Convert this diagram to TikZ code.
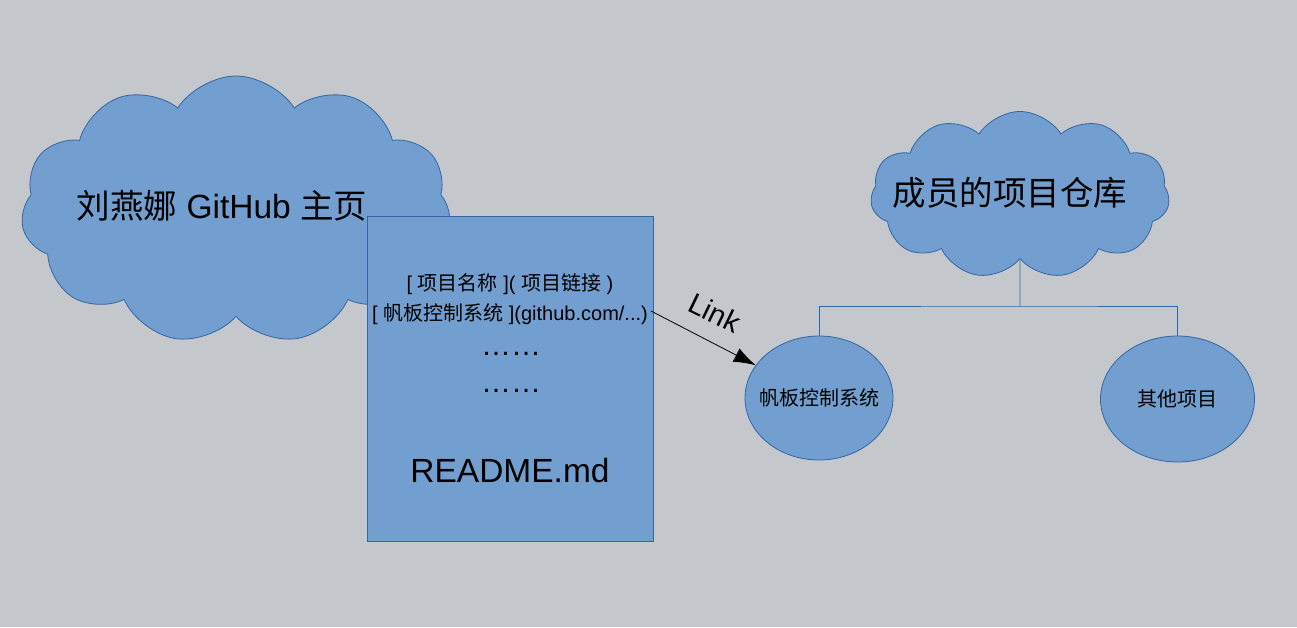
\documentclass[tikz,border=0pt]{standalone}
\usepackage{fontspec}
\setmainfont{Liberation Sans}
\newfontfamily\cjk{Noto Sans CJK SC}
\usetikzlibrary{shapes.symbols,shapes.geometric,arrows.meta}
\definecolor{bgGray}{RGB}{196,200,204}
\definecolor{shapeFill}{RGB}{114,159,207}
\definecolor{shapeLine}{RGB}{52,101,164}
\newcommand{\bigFont}{\fontsize{33.5}{40}\selectfont}
\newcommand{\smallFont}{\fontsize{20}{30}\selectfont}
\newcommand{\zh}[1]{{\cjk #1}}

\begin{document}
\begin{tikzpicture}[x=1pt,y=-1pt,>=Latex,
  cloudbox/.style={cloud,cloud puffs=11,cloud puff arc=115,cloud ignores aspect,
    draw=shapeLine,fill=shapeFill,line width=0.8pt,inner sep=0pt},
  filebox/.style={rectangle,draw=shapeLine,fill=shapeFill,line width=0.8pt,
    minimum width=286pt,minimum height=325pt,inner sep=0pt},
  projbox/.style={ellipse,draw=shapeLine,fill=shapeFill,line width=0.8pt,
    inner xsep=-15pt,inner ysep=0pt},
  treeline/.style={draw=shapeLine,line width=0.8pt}]
% Background and margins
\fill[bgGray] (0,0) rectangle (1297,627);
\useasboundingbox (0,0) rectangle (1297,627);

% Home page cloud
\node[cloudbox,minimum width=430pt,minimum height=268pt] (home) at (236,210) {};
\node[font=\bigFont] (homeText) at (222,206) {\zh{刘燕娜} GitHub \zh{主页}};

% README file
\node[filebox] (readme) at (510,378.5) {};
\node[font=\smallFont] (rowHead) at (510,284) {[ \zh{项目名称} ]( \zh{项目链接} )};
\node[font=\smallFont] (rowLink) at (510,314) {[ \zh{帆板控制系统} ](github.com/...)};
\node[font=\fontsize{30}{36}\selectfont] (dotsA) at (511,354) {……};
\node[font=\fontsize{30}{36}\selectfont] (dotsB) at (511,391) {……};
\node[font=\bigFont] (readmeText) at (510,471) {README.md};

% Member repositories
\node[cloudbox,minimum width=299pt,minimum height=167pt] (repos) at (1020,195) {};
\node[font=\bigFont] (reposText) at (1010,193) {\zh{成员的项目仓库}};
\node[projbox,minimum width=148pt,minimum height=124pt,font=\smallFont] (proj1) at (819,398) {\zh{帆板控制系统}};
\node[projbox,minimum width=154pt,minimum height=126pt,font=\smallFont] (proj2) at (1177.5,399) {\zh{其他项目}};

\coordinate (fork) at (1020,306);
\draw[treeline] (repos.south) -- (fork);
\draw[treeline] (proj1.north) |- (fork) -| (proj2.north);

% Link
\coordinate (linkStart) at (651,311);
\draw[->,line width=0.8pt,arrows={->[length=22pt,width=15pt]}] (linkStart) -- (proj1);
\node[font=\fontsize{29}{34}\selectfont,rotate=-26,inner sep=1pt] (linkText) at (715,313) {Link};

\end{tikzpicture}
\end{document}
